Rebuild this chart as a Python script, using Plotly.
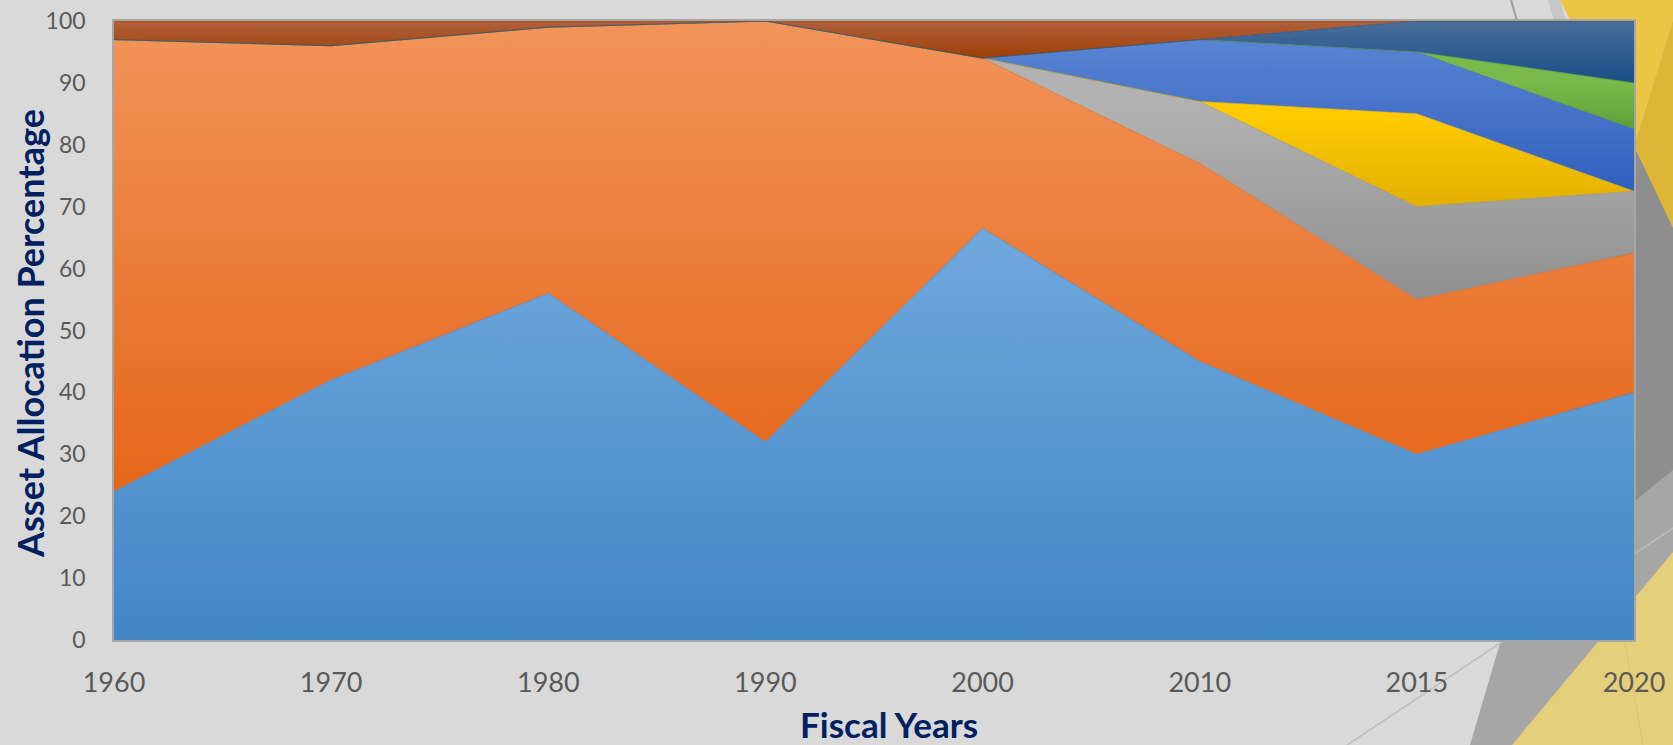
import plotly.graph_objects as go

# ---------------- data ----------------
years = ["1960", "1970", "1980", "1990", "2000", "2010", "2015", "2020"]
series_names = ["Series 1", "Series 2", "Series 3", "Series 4",
                "Series 5", "Series 6", "Series 7", "Series 8"]
s1 = [24, 42, 56, 32, 66.5, 45, 30, 40]
s2 = [73, 54, 43, 68, 27.5, 32, 25, 22.5]
s3 = [0, 0, 0, 0, 0, 10, 15, 10]
s4 = [0, 0, 0, 0, 0, 0, 15, 0]
s5 = [0, 0, 0, 0, 0, 10, 10, 10]
s6 = [0, 0, 0, 0, 0, 0, 0, 7.5]
s7 = [0, 0, 0, 0, 0, 0, 5, 10]
s8 = [3, 4, 1, 0, 6, 3, 0, 0]
y_ticks = [0, 10, 20, 30, 40, 50, 60, 70, 80, 90, 100]

series = [s1, s2, s3, s4, s5, s6, s7, s8]
# (dark bottom, light top) gradient colours per series
grad = [
    ("#4186C5", "#6FA8DD"),
    ("#E5661A", "#F2945A"),
    ("#8F8F8F", "#B2B2B2"),
    ("#E2AF00", "#FFCB00"),
    ("#2F60BD", "#5A84D3"),
    ("#5E9F35", "#79B94B"),
    ("#184E86", "#4A6E9B"),
    ("#9E3F06", "#B0603B"),
]

W, H = 1673, 745
L, R, T, B = 114, 39, 21, 105
PW, PH = W - L - R, H - T - B


def px(x):
    return (x - L) / PW


def py(y):
    return (H - B - y) / PH


fig = go.Figure()
lower = [0.0] * len(years)
for name, vals, (dark, light) in zip(series_names, series, grad):
    upper = [a + b for a, b in zip(lower, vals)]
    idx = [i for i, v in enumerate(vals) if v > 0]
    g0 = min(lower[i] for i in idx)
    g1 = max(upper[i] for i in idx)
    fig.add_trace(go.Scatter(
        x=years, y=vals, name=name, stackgroup="one", mode="lines",
        line=dict(width=0.6, color=dark),
        fillgradient=dict(type="vertical", colorscale=[[0, dark], [1, light]],
                          start=g0, stop=g1),
        hoverinfo="x+y+name",
    ))
    lower = upper

shapes = []


def poly(pts, color, layer="below"):
    path = "M " + " L ".join(f"{px(a):.5f},{py(b):.5f}" for a, b in pts) + " Z"
    return dict(type="path", xref="paper", yref="paper", path=path,
                fillcolor=color, line=dict(width=0), layer=layer)


def seg(p0, p1, color, width):
    return dict(type="line", xref="paper", yref="paper",
                x0=px(p0[0]), y0=py(p0[1]), x1=px(p1[0]), y1=py(p1[1]),
                line=dict(color=color, width=width), layer="below")


# decorative background facets (theme art)
shapes.append(poly([(1470, 745), (1689, 0), (1673, 0), (1673, 745)], "#A6A6A6"))
shapes.append(poly([(1636, 150), (1673, 225), (1673, 470), (1636, 500)], "#8E8E8E"))
shapes.append(poly([(1548, 0), (1560, 0), (1566, 21), (1554, 21)], "#C6C6C6"))
shapes.append(poly([(1560, 0), (1673, 0), (1673, 20), (1636, 140), (1600, 80)], "#EBC645"))
shapes.append(poly([(1673, 20), (1673, 228), (1636, 150), (1636, 140)], "#DDB637"))
shapes.append(poly([(1512, 745), (1673, 552), (1673, 745)], "#E4CF7B"))
shapes.append(seg((1347, 745), (1673, 528), "#BDBDBD", 1.5))
shapes.append(seg((1511, 0), (1517, 21), "#9C9C9C", 2))
shapes.append(seg((1625, 643), (1643, 745), "#D8C473", 1))

# vertical gridlines drawn above the areas
for yr in years:
    shapes.append(dict(type="line", xref="x", yref="paper", x0=yr, x1=yr,
                       y0=0, y1=1, line=dict(color="#A9A9A9", width=1.3),
                       layer="above"))

annotations = [
    dict(text="<b>Asset Allocation Percentage</b>", textangle=-90,
         xref="paper", yref="paper", x=px(30), y=py(334),
         xanchor="center", yanchor="middle", showarrow=False,
         font=dict(family="Lato", size=36, color="#002060")),
    dict(text="<b>Fiscal Years</b>",
         xref="paper", yref="paper", x=px(889), y=py(724),
         xanchor="center", yanchor="middle", showarrow=False,
         font=dict(family="Lato", size=35, color="#002060")),
]

fig.update_layout(
    width=W, height=H,
    margin=dict(l=L, r=R, t=T, b=B, pad=0, autoexpand=False),
    paper_bgcolor="#D9D9D9", plot_bgcolor="#D9D9D9",
    showlegend=False,
    shapes=shapes, annotations=annotations,
    xaxis=dict(type="category", range=[0, len(years) - 1], showgrid=False,
               showline=True, linecolor="#A6A6A6", linewidth=1.5, mirror=True,
               ticks="", tickfont=dict(family="Lato", size=27, color="#595959"),
               ticklabelstandoff=18, zeroline=False, automargin=False),
    yaxis=dict(range=[0, 100], tickvals=y_ticks, showgrid=False,
               showline=True, linecolor="#A6A6A6", linewidth=1.5, mirror=True,
               ticks="", tickfont=dict(family="Lato", size=23, color="#595959"),
               ticklabelstandoff=22, zeroline=False, automargin=False),
)

fig.write_html("out.html")
